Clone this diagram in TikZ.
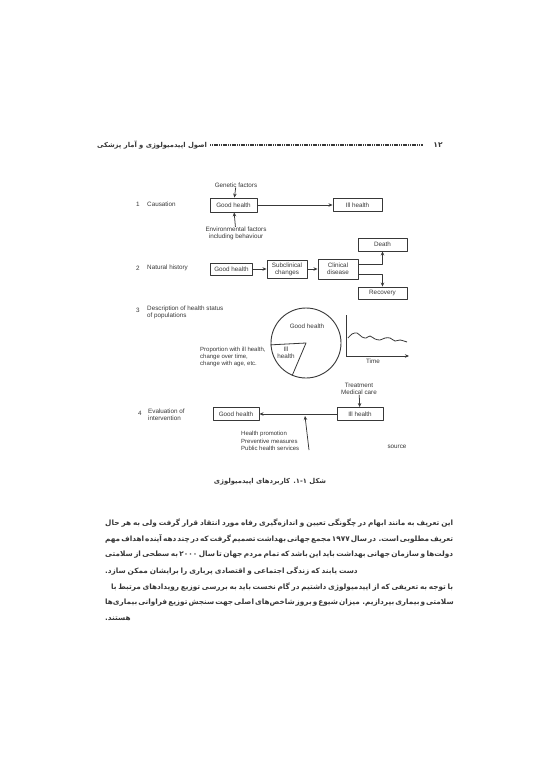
\documentclass[tikz,border=0pt]{standalone}
\usepackage{fontspec}
\setmainfont{Liberation Sans}
\newfontfamily\arabicfont[Script=Arabic]{DejaVu Sans}
\TeXXeTstate=1
\usetikzlibrary{arrows.meta}
\definecolor{inkc}{gray}{0.22}
\newcommand\fs{\fontsize{6.3}{6.9}\selectfont}
\newcommand\bodyfont{\arabicfont\bfseries\fontsize{7.3}{8}\selectfont\spaceskip=0.26em plus 1fil minus 0.12em\relax}
\begin{document}
\begin{tikzpicture}[x=1pt,y=-1pt,line join=round]
\tikzset{
  hbox/.style={draw=inkc, line width=0.9pt, inner sep=0.8pt, font=\fs, text=inkc, align=center},
  lab/.style={font=\fs, text=inkc, inner sep=0pt, align=left},
  arr/.style={draw=inkc, line width=0.75pt, -{Stealth[length=4pt,width=3.5pt]}},
  ln/.style={draw=inkc, line width=0.8pt},
  body/.style={anchor=west, inner sep=0pt, text=inkc},
}
\useasboundingbox[fill=white] (0,0) rectangle (543,768);

% header
\node[anchor=west, inner sep=0pt, text=inkc, font=\arabicfont\bfseries\fontsize{6.8}{8}\selectfont] (hdr) at (97,145) {\beginR اصول اپیدمیولوژی و آمار پزشکی\endR};
\coordinate (hl1) at (210,145);
\coordinate (hl2) at (423,145);
\draw[inkc, line width=1.6pt, dash pattern=on 1.2pt off 0.6pt] (hl1) -- (hl2);
\node[inner sep=0pt, text=inkc, font=\arabicfont\bfseries\fontsize{7.5}{8}\selectfont] (pg) at (438,145) {\beginR ۱۲\endR};

% 1 Causation
\node[lab, anchor=west] (n1) at (136,204) {1};
\node[lab, anchor=west] (c1) at (147,204) {Causation};
\node[hbox, minimum width=47pt, minimum height=14pt] (g1) at (233.5,205) {Good health};
\node[hbox, minimum width=49pt, minimum height=13pt] (i1) at (357.5,205) {Ill health};
\node[lab] (gf) at (236,185) {Genetic factors};
\node[lab, align=center] (ef) at (236,233.5) {Environmental factors\\including behaviour};
\draw[arr] (gf) -- (g1);
\draw[arr] (ef) -- (g1);
\draw[arr] (g1) -- (i1);

% 2 Natural history
\node[lab, anchor=west] (n2) at (136,268) {2};
\node[lab, anchor=west] (c2) at (147,268) {Natural history};
\node[hbox, minimum width=42pt, minimum height=12pt] (g2) at (231.5,269) {Good health};
\node[hbox, minimum width=40pt, minimum height=18pt] (sc) at (287,269) {Subclinical\\changes};
\node[hbox, minimum width=40pt, minimum height=20pt] (cd) at (338,269) {Clinical\\disease};
\node[hbox, minimum width=49pt, minimum height=13pt] (de) at (382.5,244.5) {Death};
\node[hbox, minimum width=49pt, minimum height=12pt] (re) at (382.5,293) {Recovery};
\draw[arr] (g2) -- (sc);
\draw[arr] (sc) -- (cd);
\draw[arr] ([yshift=5pt]cd.east) -| (de.south);
\draw[arr] ([yshift=-5pt]cd.east) -| (re.north);

% 3 Description of health status
\node[lab, anchor=west] (n3) at (136,310) {3};
\node[lab, anchor=north west] (c3) at (147,306) {Description of health status\\of populations};
\node[circle, draw=inkc, line width=0.9pt, minimum size=70pt, inner sep=0pt] (circ) at (306,343) {};
\draw[ln] (circ.183) -- (circ.center) -- (circ.247);
\node[lab] (gh3) at (307,326) {Good health};
\node[lab, align=center] (ih3) at (286,353) {Ill\\health};
\node[lab, anchor=west, font=\fontsize{6}{6.8}\selectfont] (prop) at (200,357) {Proportion with ill health,\\change over time,\\change with age, etc.};
\coordinate (axtop) at (346,315);
\coordinate (ax0) at (346,356);
\coordinate (axend) at (409,356);
\draw[ln] (axtop) -- (ax0);
\draw[arr] (ax0) -- (axend);
\draw[ln] plot[smooth] coordinates {(348,338) (352,334) (357,333) (362,337) (366,338) (370,336) (375,339) (380,340) (385,338) (390,338) (395,341) (400,340) (407,342)};
\node[lab] (time) at (373,361) {Time};

% 4 Evaluation of intervention
\node[lab, anchor=west] (n4) at (138,413) {4};
\node[lab, anchor=west] (c4) at (148,415) {Evaluation of\\intervention};
\node[hbox, minimum width=46pt, minimum height=13pt] (g4) at (236,414) {Good health};
\node[hbox, minimum width=46pt, minimum height=13pt] (i4) at (360,414) {Ill health};
\node[lab, align=center] (tm) at (359,389) {Treatment\\Medical care};
\draw[arr] (tm) -- (i4);
\draw[arr] (i4) -- (g4);
\node[lab, anchor=west, font=\fontsize{6}{7.4}\selectfont] (hp) at (241,441) {Health promotion\\Preventive measures\\Public health services};
\coordinate (hpb) at (309,450);
\coordinate (hpt) at (305,416);
\draw[arr] (hpb) -- (hpt);
\node[lab] (src) at (397,447) {source};

% caption
\node[inner sep=0pt, text=inkc, font=\arabicfont\bfseries\fontsize{6.8}{8}\selectfont] (cap) at (270,482) {\beginR شکل ۱-۱. کاربردهای اپیدمیولوژی\endR};

% body text
\node[body] (b1) at (105,523) {\hbox to 348pt{\bodyfont\beginR این تعریف به مانند ابهام در چگونگی تعیین و اندازه‌گیری رفاه مورد انتقاد قرار گرفت ولی به هر حال\endR}};
\node[body] (b2) at (105,539) {\hbox to 348pt{\bodyfont\beginR تعریف مطلوبی است. در سال ۱۹۷۷ مجمع جهانی بهداشت تصمیم گرفت که در چند دهه آینده اهداف مهم\endR}};
\node[body] (b3) at (105,555) {\hbox to 348pt{\bodyfont\beginR دولت‌ها و سازمان جهانی بهداشت باید این باشد که تمام مردم جهان تا سال ۲۰۰۰ به سطحی از سلامتی\endR}};
\node[body] (b4) at (105,571) {\hbox{\bodyfont\beginR دست یابند که زندگی اجتماعی و اقتصادی پرباری را برایشان ممکن سازد.\endR}};
\node[body] (b5) at (111,587) {\hbox to 342pt{\bodyfont\beginR با توجه به تعریفی که از اپیدمیولوژی داشتیم در گام نخست باید به بررسی توزیع رویدادهای مرتبط با\endR}};
\node[body] (b6) at (105,603) {\hbox to 348pt{\bodyfont\beginR سلامتی و بیماری بپردازیم. میزان شیوع و بروز شاخص‌های اصلی جهت سنجش توزیع فراوانی بیماری‌ها\endR}};
\node[body] (b7) at (105,619) {\hbox{\bodyfont\beginR هستند.\endR}};
\end{tikzpicture}
\end{document}
